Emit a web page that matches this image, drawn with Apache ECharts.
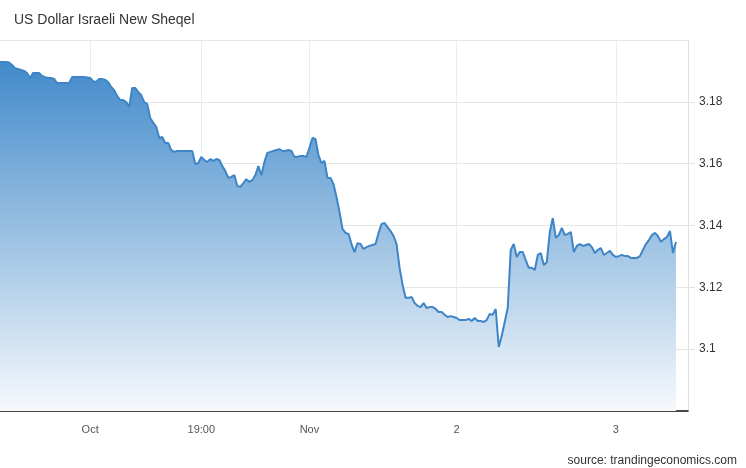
<!DOCTYPE html>
<html>
<head>
<meta charset="utf-8">
<script src="https://cdn.jsdelivr.net/npm/echarts@6/dist/echarts.min.js"></script>
<style>
html,body{margin:0;padding:0;background:#fff;}
#chart{width:746px;height:468px;}
</style>
</head>
<body>
<div id="chart"></div>
<script>
const titleText = 'US Dollar Israeli New Sheqel';
const sourceText = 'source: trandingeconomics.com';

const values = [
3.1929,3.1929,3.1929,3.1927,3.1919,3.1909,3.1906,3.1903,3.1900,3.1893,
3.1877,3.1893,3.1893,3.1893,3.1884,3.1880,3.1877,3.1877,3.1874,3.1861,
3.1861,3.1861,3.1861,3.1861,3.1880,3.1880,3.1880,3.1880,3.1880,3.1879,
3.1877,3.1867,3.1864,3.1874,3.1874,3.1871,3.1864,3.1848,3.1838,3.1819,
3.1806,3.1806,3.1799,3.1783,3.1845,3.1845,3.1832,3.1822,3.1799,3.1793,
3.1748,3.1732,3.1719,3.1683,3.1686,3.1667,3.1667,3.1644,3.1638,3.1641,
3.1641,3.1641,3.1641,3.1641,3.1641,3.1599,3.1602,3.1622,3.1612,3.1605,
3.1615,3.1609,3.1615,3.1612,3.1592,3.1576,3.1554,3.1557,3.1563,3.1528,
3.1525,3.1537,3.1550,3.1541,3.1547,3.1563,3.1592,3.1563,3.1605,3.1635,
3.1638,3.1641,3.1644,3.1647,3.1641,3.1641,3.1644,3.1641,3.1622,3.1622,
3.1625,3.1625,3.1622,3.1651,3.1683,3.1680,3.1628,3.1602,3.1609,3.1554,
3.1554,3.1534,3.1492,3.1444,3.1389,3.1376,3.1373,3.1340,3.1314,3.1343,
3.1340,3.1324,3.1330,3.1334,3.1337,3.1340,3.1376,3.1405,3.1408,3.1395,
3.1382,3.1366,3.1340,3.1263,3.1208,3.1166,3.1166,3.1169,3.1149,3.1140,
3.1136,3.1149,3.1133,3.1136,3.1136,3.1130,3.1120,3.1120,3.1111,3.1104,
3.1107,3.1104,3.1101,3.1094,3.1094,3.1094,3.1098,3.1091,3.1101,3.1091,
3.1091,3.1088,3.1094,3.1114,3.1111,3.1130,3.1007,3.1043,3.1088,3.1133,
3.1321,3.1340,3.1298,3.1314,3.1314,3.1288,3.1263,3.1263,3.1256,3.1305,
3.1311,3.1272,3.1282,3.1379,3.1424,3.1360,3.1369,3.1392,3.1369,3.1373,
3.1379,3.1314,3.1334,3.1340,3.1334,3.1337,3.1340,3.1330,3.1311,3.1321,
3.1327,3.1305,3.1311,3.1318,3.1305,3.1298,3.1301,3.1305,3.1301,3.1301,
3.1295,3.1295,3.1295,3.1301,3.1321,3.1340,3.1353,3.1369,3.1376,3.1366,
3.1347,3.1356,3.1363,3.1382,3.1311,3.1347
];
// empty slots after the last quote (axis continues past the data)
const trailingSlots = 4;
const tickIndex = [30, 67, 103, 152, 205];
const tickLabels = ['Oct', '19:00', 'Nov', '2', '3'];
const yMin = 3.08, yMax = 3.2, yStep = 0.02;

const categories = [];
for (let i = 0; i < values.length + trailingSlots; i++) categories.push(String(i));
const isTick = (i) => tickIndex.indexOf(i) >= 0;

const chart = echarts.init(document.getElementById('chart'), null, {renderer: 'canvas'});
chart.setOption({
  animation: false,
  backgroundColor: '#ffffff',
  textStyle: {fontFamily: 'Liberation Sans, Arial, sans-serif'},
  title: {
    text: titleText,
    left: 9, top: 8,
    textStyle: {fontSize: 14, fontWeight: 'normal', color: '#333333', fontFamily: 'Liberation Sans, Arial, sans-serif'}
  },
  graphic: [{
    type: 'text', right: 9, top: 455,
    style: {text: sourceText, font: '12px "Liberation Sans", Arial, sans-serif', fill: '#333333'}
  }],
  grid: {left: 0, right: 58, top: 40, bottom: 57, containLabel: false},
  xAxis: {
    type: 'category',
    data: categories,
    boundaryGap: false,
    axisLine: {show: true, lineStyle: {color: '#111111', width: 1.5}},
    axisTick: {show: false},
    axisLabel: {
      interval: (i) => isTick(i),
      formatter: (v, i) => { const k = tickIndex.indexOf(Number(v)); return k >= 0 ? tickLabels[k] : ''; },
      color: '#555555', fontSize: 11, margin: 13
    },
    splitLine: {show: true, interval: (i) => isTick(i), lineStyle: {color: '#e6edf4', width: 1}}
  },
  yAxis: {
    type: 'value',
    position: 'right',
    min: yMin, max: yMax, interval: yStep,
    axisLine: {show: true, lineStyle: {color: '#e0e0e0', width: 1}},
    axisTick: {show: true, length: 7, lineStyle: {color: '#e0e0e0'}},
    axisLabel: {showMinLabel: false, showMaxLabel: false, color: '#333333', fontSize: 12, margin: 11},
    splitLine: {show: true, lineStyle: {color: '#e6e6e6', width: 1}}
  },
  series: [{
    type: 'line',
    data: values,
    showSymbol: false,
    smooth: false,
    lineStyle: {color: '#3d85c6', width: 2},
    areaStyle: {
      opacity: 1,
      color: new echarts.graphic.LinearGradient(0, 0, 0, 1, [
        {offset: 0, color: 'rgb(66,138,202)'},
        {offset: 1, color: 'rgb(246,249,252)'}
      ])
    }
  }]
});
</script>
</body>
</html>
